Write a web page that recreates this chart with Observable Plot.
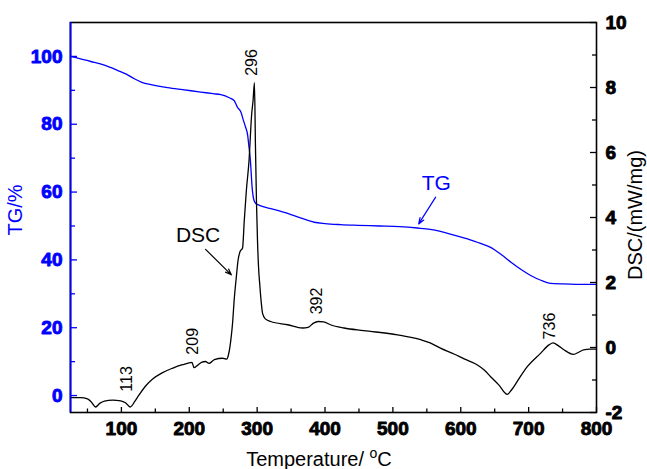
<!DOCTYPE html>
<html><head><meta charset="utf-8">
<script src="https://cdn.jsdelivr.net/npm/d3@7"></script>
<script src="https://cdn.jsdelivr.net/npm/@observablehq/plot@0.6"></script>
<style>body{margin:0;background:#fff}</style>
</head><body><div id="chart"></div>
<script>
// TG curve (temperature °C, mass %)
const tgTemp  = [25,55,75,94,108,119,131,143.5,168,190,217,235,246.5,259,266,271,276,280,283,286,288,290,291,292,293,295,298,301,310,320,340,365,384,400,423,448,480,510,536,555,570,590,610,627,644,660,674,690,703,718,732,750,770,800];
const tgValue = [100,98.5,97.4,95.9,94.7,93.4,92.3,91.7,90.8,90.2,89.5,89.0,88.7,87.8,87.0,85.0,83.6,81.0,79.1,76.8,73.2,69.5,66.4,63.0,60.5,57.8,56.6,56.3,55.6,55.1,54.0,52.3,51.1,50.7,50.4,50.2,50.0,49.8,49.4,49.0,48.4,47.3,46.2,45.0,43.7,41.5,39.3,37.0,35.4,34.0,33.1,32.9,32.8,32.8];
// DSC curve (temperature °C, mW/mg)
const dscTemp  = [25,40,50,55,62,68,75,87,99,106,113,120,126,135,146,160,175,190,204,207,212,218,224,229,237,249,255,258,261,264,266,269,272,275,278.5,281,284,288,292,294,296,297.5,299,300.5,302,304,306,308,312,320,345,367,375,383,390,398,408,428,457,507,541,555,570,590,605,624,635,644,656,668.5,675,683,698,717.5,730,736,744,752,766,775,781,790,800];
const dscValue = [-1.54,-1.54,-1.58,-1.66,-1.83,-1.72,-1.65,-1.62,-1.64,-1.70,-1.83,-1.65,-1.46,-1.20,-0.97,-0.78,-0.64,-0.53,-0.46,-0.62,-0.55,-0.46,-0.43,-0.49,-0.37,-0.33,-0.36,-0.20,0.19,0.80,1.42,2.10,2.70,2.96,3.06,3.89,4.80,5.74,7.20,7.60,8.15,6.20,4.50,3.30,2.50,1.90,1.40,1.05,0.88,0.80,0.70,0.60,0.62,0.75,0.80,0.79,0.70,0.60,0.52,0.39,0.24,0.14,-0.02,-0.20,-0.35,-0.53,-0.70,-0.90,-1.15,-1.44,-1.30,-1.05,-0.59,-0.18,0.08,0.14,0.05,-0.07,-0.21,-0.13,-0.07,-0.05,-0.05];

// axes
const xDomain = [25, 800];
const tgDomain = [-5, 110];
const dscDomain = [-2, 10];
const xTicks = [100,200,300,400,500,600,700,800];
const xMinorTicks = [50,150,250,350,450,550,650,750];
const tgTicks = [0,20,40,60,80,100];
const tgMinorTicks = [10,30,50,70,90];
const dscTicks = [-2,0,2,4,6,8,10];
const dscMinorTicks = [-1,1,3,5,7,9];

// annotations
const peakTemps = [113,209,296,392,736];
const peakLabelDsc = [-1.36,-0.22,8.36,1.02,0.25];
const curveNames = ["TG","DSC"];
const curveNameTemp = [564,213];
const curveNameTG = [62.5,47.2];
const arrowFromTemp = [563,224];
const arrowFromTG = [58.5,43.1];
const arrowToTemp = [538,262];
const arrowToTG = [50.6,35.6];
const curveColors = ["#0000ff","#000000"];

const toTG = d => tgDomain[0] + (d - dscDomain[0]) * (tgDomain[1]-tgDomain[0]) / (dscDomain[1]-dscDomain[0]);
const fromTG = v => dscDomain[0] + (v - tgDomain[0]) * (dscDomain[1]-dscDomain[0]) / (tgDomain[1]-tgDomain[0]);

const W = 647, H = 469, mL = 70, mR = 51, mT = 22, mB = 57;
const kx = (xDomain[1]-xDomain[0]) / (W - mL - mR);   // units per px
const ky = (tgDomain[1]-tgDomain[0]) / (H - mT - mB);

const tgData = tgTemp.map((t,i)=>({t, v: tgValue[i]}));
const dscData = dscTemp.map((t,i)=>({t, v: toTG(dscValue[i])}));
const blue = "#0000ff";
const font = "'Liberation Sans', Arial, sans-serif";
const tickFont = {fontSize: 19, fontWeight: 700, fontFamily: font, strokeWidth: 0.9};

const chart = Plot.plot({
  width: W, height: H,
  marginLeft: mL, marginRight: mR, marginTop: mT, marginBottom: mB,
  style: {fontFamily: font, background: "#fff", overflow: "visible"},
  x: {domain: xDomain, axis: null},
  y: {domain: tgDomain, axis: null},
  marks: [
    Plot.line(tgData, {x: "t", y: "v", stroke: blue, strokeWidth: 1.3, curve: "monotone-x"}),
    Plot.line(dscData, {x: "t", y: "v", stroke: "#000", strokeWidth: 1.3, curve: "monotone-x"}),
    Plot.frame({stroke: "#000", strokeWidth: 1.6}),
    Plot.ruleX([xDomain[0]], {stroke: blue, strokeWidth: 1.8}),
    // inward ticks
    Plot.ruleX(xTicks, {x: d=>d, y1: tgDomain[0], y2: tgDomain[0] + 5*ky, stroke: "#000", strokeWidth: 1.3}),
    Plot.ruleX(xMinorTicks, {x: d=>d, y1: tgDomain[0], y2: tgDomain[0] + 3.5*ky, stroke: "#000", strokeWidth: 1.3}),
    Plot.ruleY(tgTicks, {y: d=>d, x1: xDomain[0], x2: xDomain[0] + 7*kx, stroke: blue, strokeWidth: 1.3}),
    Plot.ruleY(tgMinorTicks, {y: d=>d, x1: xDomain[0], x2: xDomain[0] + 5*kx, stroke: blue, strokeWidth: 1.3}),
    Plot.ruleY(dscTicks.map(toTG), {y: d=>d, x1: xDomain[1] - 6*kx, x2: xDomain[1], stroke: "#000", strokeWidth: 1.3}),
    Plot.ruleY(dscMinorTicks.map(toTG), {y: d=>d, x1: xDomain[1] - 4*kx, x2: xDomain[1], stroke: "#000", strokeWidth: 1.3}),
    // tick labels (bold)
    Plot.text(xTicks, {x: d=>d, y: tgDomain[0], text: d=>String(d), frameAnchor: "bottom", lineAnchor: "top", dy: 9, ...tickFont, fill: "#000", stroke: "#000"}),
    Plot.text(tgTicks, {x: xDomain[0], y: d=>d, text: d=>String(d), textAnchor: "end", dx: -8, ...tickFont, fill: blue, stroke: blue}),
    Plot.text(dscTicks, {x: xDomain[1], y: d=>toTG(d), text: d=>String(d), textAnchor: "start", dx: 9, ...tickFont, fill: "#000", stroke: "#000"}),
    // peak labels
    Plot.text(peakTemps, {x: d=>d, y: (d,i)=>toTG(peakLabelDsc[i]), text: d=>String(d), rotate: -90, textAnchor: "start", dx: -3, fontSize: 16, fill: "#000"}),
    // curve names and arrows
    Plot.text(curveNames, {x: (d,i)=>curveNameTemp[i], y: (d,i)=>curveNameTG[i], text: d=>d, fontSize: 21, fill: (d,i)=>curveColors[i]}),
    Plot.arrow(curveNames, {x1: (d,i)=>arrowFromTemp[i], y1: (d,i)=>arrowFromTG[i], x2: (d,i)=>arrowToTemp[i], y2: (d,i)=>arrowToTG[i], stroke: (d,i)=>curveColors[i], strokeWidth: 1.2, headLength: 8, headAngle: 40})
  ]
});

const svg = d3.select(chart);
svg.append("text")
  .attr("transform", `translate(15,${(mT + H - mB)/2 - 7}) rotate(-90)`)
  .attr("text-anchor", "middle").attr("dy", "0.35em")
  .attr("fill", blue).attr("font-size", 20).attr("font-family", font)
  .text("TG/%");
svg.append("text")
  .attr("transform", `translate(635,${(mT + H - mB)/2 - 2}) rotate(-90)`)
  .attr("text-anchor", "middle").attr("dy", "0.35em")
  .attr("fill", "#000").attr("font-size", 20).attr("font-family", font)
  .text("DSC/(mW/mg)");
const xt = svg.append("text")
  .attr("x", 319).attr("y", 466)
  .attr("text-anchor", "middle")
  .attr("fill", "#000").attr("font-size", 20).attr("font-family", font);
xt.append("tspan").text("Temperature/ ");
xt.append("tspan").attr("font-size", 14).attr("dy", -8).text("o");
xt.append("tspan").attr("dy", 8).text("C");

document.getElementById("chart").appendChild(chart);
</script>
</body></html>
